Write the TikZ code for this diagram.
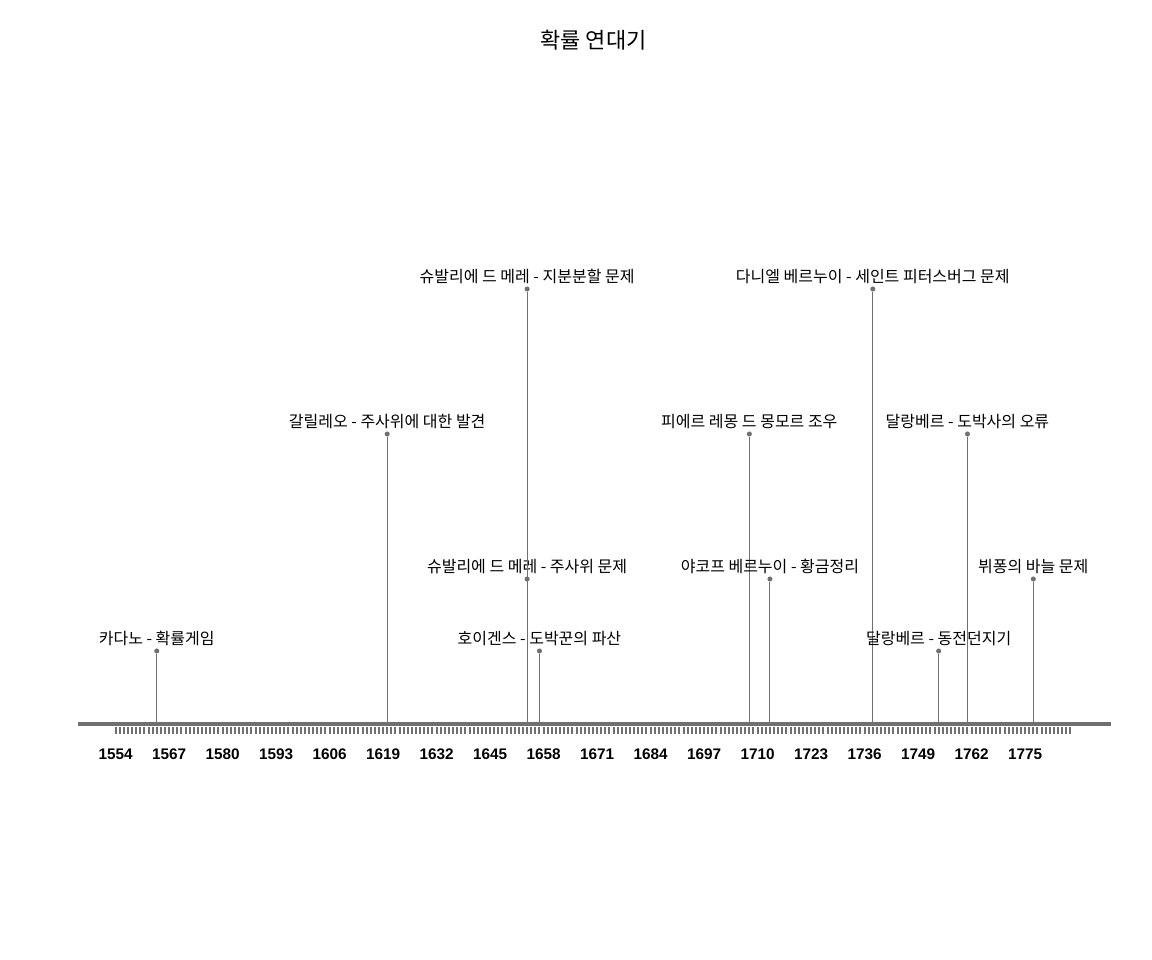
\documentclass[tikz,border=0pt]{standalone}
\usepackage{fontspec}
\setmainfont{Liberation Sans}
\newfontfamily\kor{Noto Sans CJK KR}
\definecolor{linegray}{RGB}{112,112,112}

\begin{document}
\begin{tikzpicture}[
  x=3.08655pt,
  y=-0.75pt,
  axis/.style={linegray, line width=3.6pt},
  tick/.style={linegray, line width=1.5pt},
  stem/.style={linegray, line width=0.75pt},
  dot/.style={circle, fill=linegray, inner sep=0pt, minimum size=3.8pt},
  event/.style={anchor=base, inner sep=0pt, font=\kor\fontsize{12}{14}\selectfont},
  year/.style={anchor=base, inner sep=0pt, font=\bfseries\fontsize{11.5}{13}\selectfont},
]
  \useasboundingbox (1525.934,0) rectangle (1805.86,960);

  \node[anchor=base, font=\kor\fontsize{16.5}{18}\selectfont] (title) at (1670.15,48) {확률 연대기};

  \draw[axis] (1544.89,724) -- (1795.9,724);
  \foreach \yr in {1554,...,1786} {
    \draw[tick] (\yr,727) -- (\yr,734);
  }
  \foreach \yr in {1554,1567,...,1775} {
    \node[year] (y\yr) at (\yr,759) {\yr};
  }

  % 카다노
  \node[event] (l1) at (1564,644) {카다노 - 확률게임};
  \node[dot] (d1) at (1564,651) {};
  \coordinate (b1) at (1564,724);
  \draw[stem] (b1) -- (d1);

  % 갈릴레오
  \node[event] (l2) at (1620,427) {갈릴레오 - 주사위에 대한 발견};
  \node[dot] (d2) at (1620,434) {};
  \coordinate (b2) at (1620,724);
  \draw[stem] (b2) -- (d2);

  % 슈발리에 드 메레
  \node[event] (l3) at (1654,572) {슈발리에 드 메레 - 주사위 문제};
  \node[dot] (d3) at (1654,579) {};
  \node[event] (l4) at (1654,282) {슈발리에 드 메레 - 지분분할 문제};
  \node[dot] (d4) at (1654,289) {};
  \coordinate (b3) at (1654,724);
  \draw[stem] (b3) -- (d4);

  % 호이겐스
  \node[event] (l5) at (1657,644) {호이겐스 - 도박꾼의 파산};
  \node[dot] (d5) at (1657,651) {};
  \coordinate (b5) at (1657,724);
  \draw[stem] (b5) -- (d5);

  % 몽모르
  \node[event] (l6) at (1708,427) {피에르 레몽 드 몽모르 조우};
  \node[dot] (d6) at (1708,434) {};
  \coordinate (b6) at (1708,724);
  \draw[stem] (b6) -- (d6);

  % 야코프 베르누이
  \node[event] (l7) at (1713,572) {야코프 베르누이 - 황금정리};
  \node[dot] (d7) at (1713,579) {};
  \coordinate (b7) at (1713,724);
  \draw[stem] (b7) -- (d7);

  % 다니엘 베르누이
  \node[event] (l8) at (1738,282) {다니엘 베르누이 - 세인트 피터스버그 문제};
  \node[dot] (d8) at (1738,289) {};
  \coordinate (b8) at (1738,724);
  \draw[stem] (b8) -- (d8);

  % 달랑베르
  \node[event] (l9) at (1754,644) {달랑베르 - 동전던지기};
  \node[dot] (d9) at (1754,651) {};
  \coordinate (b9) at (1754,724);
  \draw[stem] (b9) -- (d9);
  \node[event] (l10) at (1761,427) {달랑베르 - 도박사의 오류};
  \node[dot] (d10) at (1761,434) {};
  \coordinate (b10) at (1761,724);
  \draw[stem] (b10) -- (d10);

  % 뷔퐁
  \node[event] (l11) at (1777,572) {뷔퐁의 바늘 문제};
  \node[dot] (d11) at (1777,579) {};
  \coordinate (b11) at (1777,724);
  \draw[stem] (b11) -- (d11);
\end{tikzpicture}
\end{document}
